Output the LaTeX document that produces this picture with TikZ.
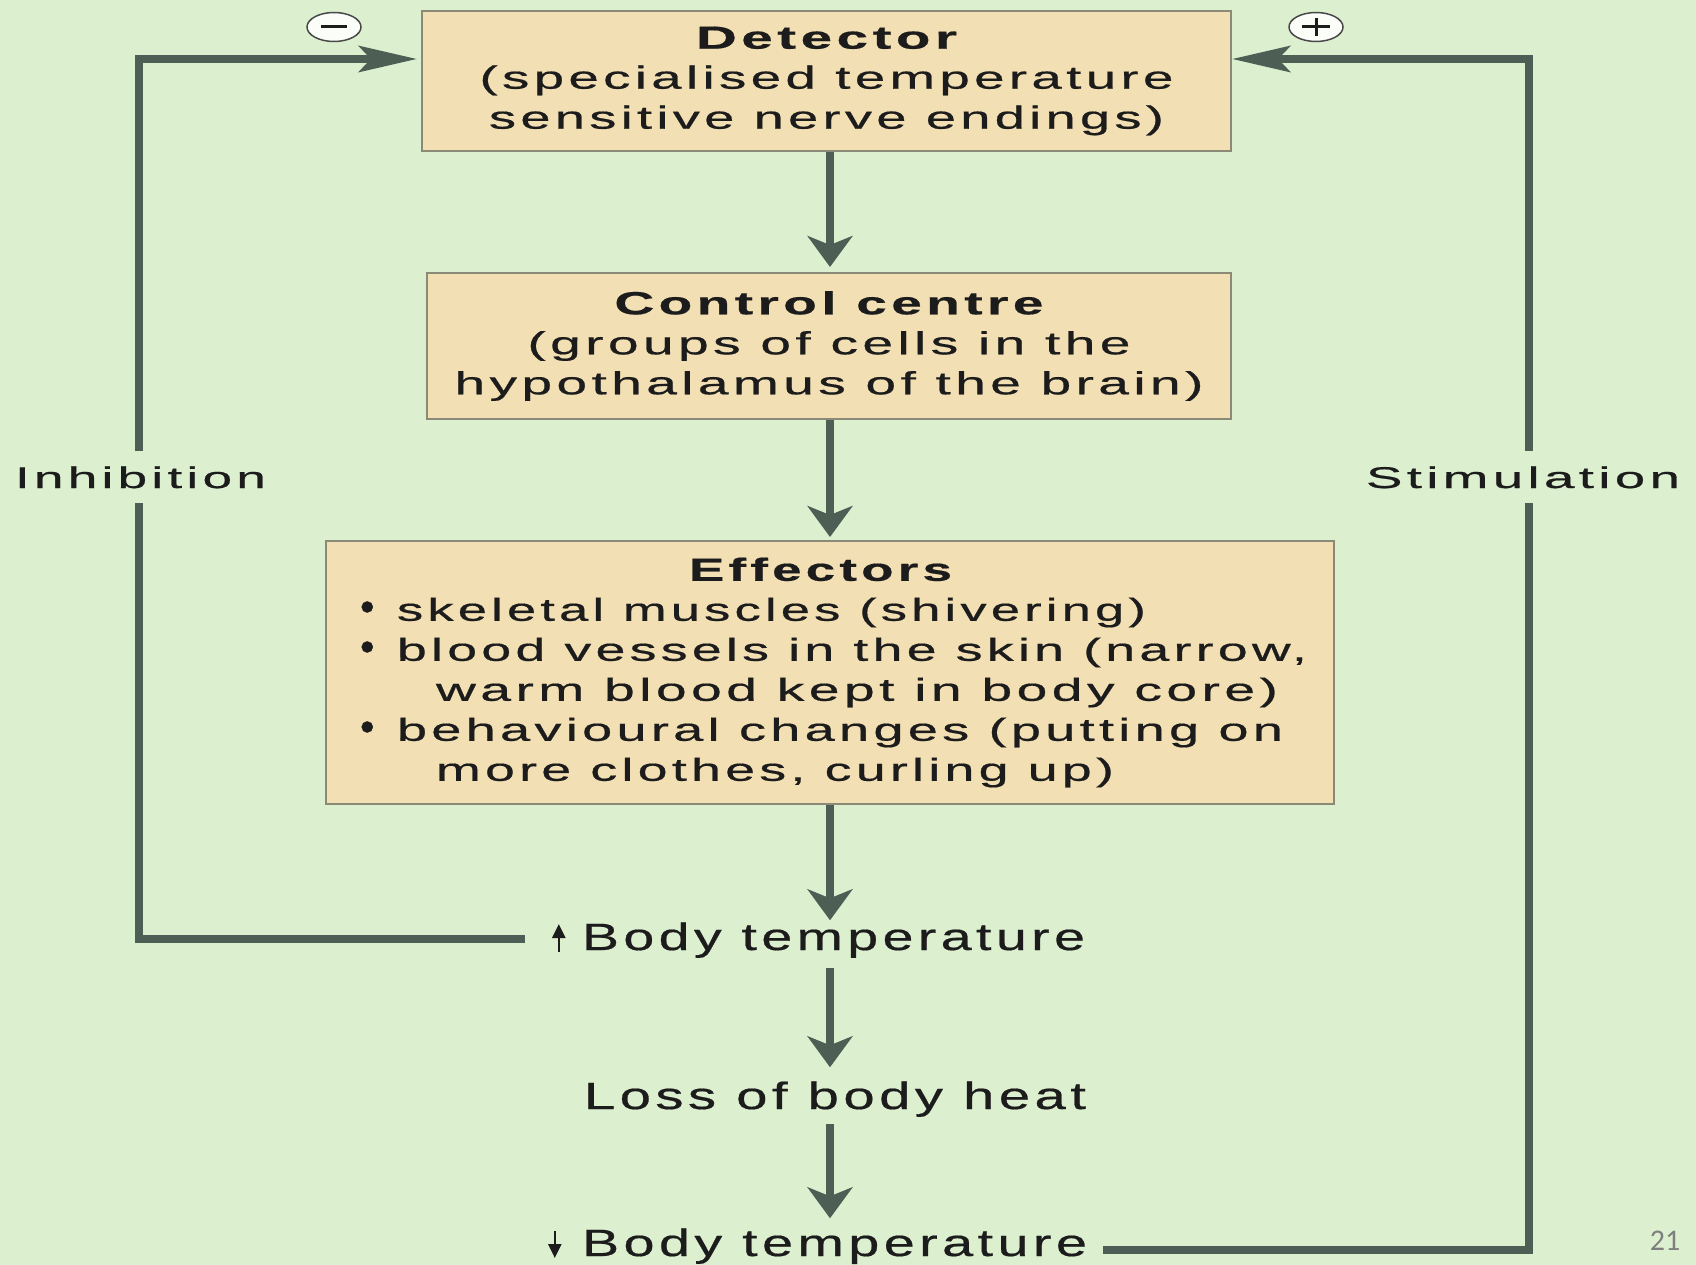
\documentclass[tikz,border=0pt]{standalone}
\usepackage{fontspec}
\usepackage{graphicx}
\usetikzlibrary{arrows.meta,calc}
\newfontfamily\lab[LetterSpace=8, FakeBold=0.5]{Liberation Sans}
\newfontfamily\slidefont{Carlito}
\newcommand{\fw}[2]{\resizebox{#1}{\height}{#2}}
\newcommand{\cl}[3]{\makebox[#1][c]{\fw{#2}{#3}}}
\newcommand{\bl}[2]{\makebox[1008pt][l]{\hspace*{34pt}\makebox[37pt][l]{\scalebox{1.3}{\textbullet}}\fw{#1}{#2}}}
\newcommand{\hl}[2]{\makebox[1008pt][l]{\hspace*{110pt}\fw{#1}{#2}}}
\definecolor{bg}{HTML}{DCF0D0}
\definecolor{tanfill}{HTML}{F2DFB3}
\definecolor{boxc}{HTML}{8A8A76}
\definecolor{lc}{HTML}{4D5F55}
\definecolor{txt}{HTML}{1C1C1C}
\definecolor{pgc}{HTML}{7F7F7F}
\begin{document}
\begin{tikzpicture}[x=1pt,y=-1pt,
  box/.style={draw=boxc, line width=2pt, fill=tanfill, inner sep=0pt, align=center,
    font=\lab\fontsize{32}{40}\selectfont, text=txt},
  lbl/.style={font=\lab\fontsize{38}{40}\selectfont, text=txt, inner sep=0pt, anchor=base},
  side/.style={font=\lab\fontsize{30}{32}\selectfont, text=txt, fill=bg, inner xsep=3pt, inner ysep=15pt, anchor=base},
  varrow/.style={draw=lc, line width=8pt, -{Stealth[length=31pt,width=45pt,inset=9pt]}},
  loopline/.style={draw=lc, line width=8pt, -{Stealth[length=58pt,width=26pt,inset=12pt]}},
  smallarr/.style={draw=txt, line width=2.5pt, -{Triangle[length=14pt,width=13pt]}},
  sign/.style={draw=txt!80, line width=1.5pt, fill=white!85!bg}
]
\useasboundingbox[fill=bg] (0,0) rectangle (1696,1265);

\coordinate (ax) at (830,0);

% boxes
\node[box, minimum width=809pt, minimum height=140pt] (det) at (826.5,81)
  {\cl{809pt}{261pt}{\bfseries Detector}\\
   \cl{809pt}{694pt}{(specialised temperature}\\
   \cl{809pt}{675pt}{sensitive nerve endings)}};

\node[box, minimum width=804pt, minimum height=146pt] (ctl) at (829,346)
  {\cl{804pt}{429pt}{\bfseries Control centre}\\
   \cl{804pt}{603pt}{(groups of cells in the}\\
   \cl{804pt}{749pt}{hypothalamus of the brain)}};

\node[box, minimum width=1008pt, minimum height=263pt] (eff) at (830,672.5)
  {\makebox[1008pt][l]{\hspace*{363pt}\fw{263pt}{\bfseries Effectors}}\\
   \bl{749pt}{skeletal muscles (shivering)}\\
   \bl{910pt}{blood vessels in the skin (narrow,}\\
   \hl{842pt}{warm blood kept in body core)}\\
   \bl{886pt}{behavioural changes (putting on}\\
   \hl{678pt}{more clothes, curling up)}};

% bottom labels
\node[lbl] (bt1) at (833.5,950) {\fw{503pt}{Body temperature}};
\node[lbl] (lh) at (835,1109) {\fw{502pt}{Loss of body heat}};
\node[lbl] (bt2) at (834.5,1256) {\fw{505pt}{Body temperature}};

% small up/down arrows
\draw[smallarr] ($(bt1.base west)+(-23,2)$) -- ($(bt1.base west)+(-23,-26)$);
\draw[smallarr] ($(bt2.base west)+(-27,-25)$) -- ($(bt2.base west)+(-27,2)$);

% feedback loops
\coordinate (Lb) at ($(bt1.base west)+(-57,-11)$);
\coordinate (Lt) at (139,59);
\draw[loopline, shorten >=4pt] (Lb) -| (Lt) -- (Lt -| det.west);
\coordinate (Rb) at ($(bt2.base east)+(16,-6)$);
\coordinate (Rt) at (1529,59);
\draw[loopline] (Rb) -| (Rt) -- (Rt -| det.east);

% side labels
\node[side] (inh) at (140.5,488) {\fw{251pt}{Inhibition}};
\node[side] (stim) at (1523,488) {\fw{314pt}{Stimulation}};

% main chain
\draw[varrow, shorten >=5pt] (det.south -| ax) -- (ctl.north -| ax);
\draw[varrow, shorten >=3pt] (ctl.south -| ax) -- (eff.north -| ax);
\draw[varrow, shorten >=2pt] (eff.south -| ax) -- (bt1.north -| ax);
\draw[varrow, shorten <=10pt, shorten >=14pt] (bt1.south -| ax) -- (lh.north -| ax);
\draw[varrow, shorten <=7pt, shorten >=10pt] (lh.south -| ax) -- (bt2.north -| ax);

% signs
\draw[sign] (334,27) ellipse [x radius=27, y radius=14.5];
\draw[txt, line width=3pt] (321,27) -- (347,27);
\draw[sign] (1316,27) ellipse [x radius=27, y radius=14.5];
\draw[txt, line width=3pt] (1302,27) -- (1330,27) (1316,18) -- (1316,36);

% slide number
\node[font=\slidefont\fontsize{30}{30}\selectfont, text=pgc, anchor=base, inner sep=0pt] (pg) at (1665,1250) {21};
\end{tikzpicture}
\end{document}
